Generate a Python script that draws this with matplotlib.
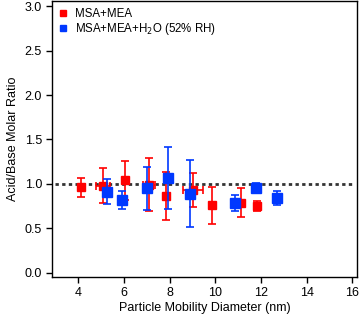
import matplotlib
matplotlib.use("Agg")
import matplotlib.pyplot as plt
from matplotlib.lines import Line2D

plt.rcParams['font.family'] = ['Liberation Sans', 'DejaVu Sans']

# MSA+MEA (red)
red_x = [4.12, 5.09, 6.03, 7.10, 7.83, 9.03, 9.85, 11.11, 11.83]
red_y = [0.96, 0.98, 1.04, 0.99, 0.86, 0.93, 0.76, 0.79, 0.755]
red_yerr = [0.11, 0.20, 0.22, 0.30, 0.27, 0.19, 0.21, 0.16, 0.055]
red_xerr = [0.0, 0.29, 0.0, 0.25, 0.0, 0.44, 0.0, 0.0, 0.0]

# MSA+MEA+H2O (blue)
blue_x = [5.24, 5.91, 7.02, 7.94, 8.90, 10.88, 11.76, 12.72]
blue_y = [0.91, 0.82, 0.95, 1.07, 0.89, 0.78, 0.95, 0.84]
blue_yerr = [0.14, 0.10, 0.24, 0.35, 0.38, 0.09, 0.055, 0.08]

labels = ['MSA+MEA', 'MSA+MEA+H$_2$O (52% RH)']
xticks = [4, 6, 8, 10, 12, 14, 16]
yticks = [0.0, 0.5, 1.0, 1.5, 2.0, 2.5, 3.0]

red_c = '#ff0000'
blue_c = '#0038ff'

fig = plt.figure(figsize=(3.6, 3.15), dpi=100)
ax = fig.add_axes([0.1436, 0.1197, 0.8481, 0.8773])

ax.hlines(1.0, 3.0, 16.0, colors='#333333', linestyles=(0, (1.2, 1.2)), linewidth=2.0, zorder=1)

ax.errorbar(red_x, red_y, yerr=red_yerr, xerr=red_xerr, fmt='s', color=red_c,
            ms=6, mec=red_c, ecolor=red_c, elinewidth=1.2, capsize=3, capthick=1.2,
            label=labels[0], zorder=3)
ax.errorbar(blue_x, blue_y, yerr=blue_yerr, fmt='s', color=blue_c,
            ms=6.5, mec=blue_c, ecolor=blue_c, elinewidth=1.2, capsize=3, capthick=1.2,
            label=labels[1], zorder=4)

ax.set_xlim(2.84, 16.2)
ax.set_ylim(-0.052, 3.06)
ax.set_xticks(xticks)
ax.set_yticks(yticks)
ax.set_yticklabels([f'{v:.1f}' for v in yticks])
ax.tick_params(direction='out', length=4, width=1, labelsize=9, colors='black', pad=3)
for s in ax.spines.values():
    s.set_linewidth(1.0)

ax.set_xlabel('Particle Mobility Diameter (nm)', fontsize=9, labelpad=2)
ax.set_ylabel('Acid/Base Molar Ratio', fontsize=9, labelpad=4)

h = [Line2D([], [], marker='s', ls='none', color=red_c, ms=5),
     Line2D([], [], marker='s', ls='none', color=blue_c, ms=5)]
ax.legend(h, labels, loc='upper left', bbox_to_anchor=(0.0, 1.0), frameon=False,
          fontsize=8.3, handlelength=0.8, handletextpad=0.6, labelspacing=0.1,
          borderaxespad=0.2)

fig.savefig('out.png', dpi=100)
